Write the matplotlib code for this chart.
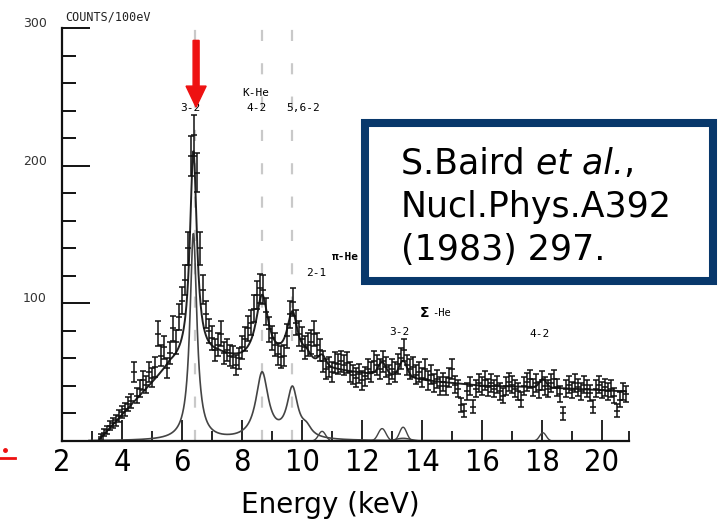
import numpy as np
import matplotlib
matplotlib.use('Agg')
import matplotlib.pyplot as plt
from matplotlib.patches import Rectangle, FancyArrow
from matplotlib.lines import Line2D
from matplotlib.ticker import FixedLocator, MultipleLocator
from matplotlib.transforms import ScaledTranslation

# counts per 100 eV bin, first bin centred at 3.3 keV
bin_start = 3.3
bin_width = 0.1
counts = np.array([
    3, 6, 8, 11, 13, 15, 18, 21, 23, 27,
    29, 50, 33, 38, 44, 41, 50, 46, 54, 78,
    62, 68, 53, 64, 82, 72, 90, 102, 117, 140,
    207, 222, 195, 140, 110, 92, 80, 75, 66, 70,
    78, 64, 66, 62, 61, 55, 60, 68, 74, 82,
    86, 96, 106, 111, 110, 94, 81, 75, 70, 63,
    61, 62, 76, 92, 101, 86, 78, 74, 68, 70,
    72, 78, 70, 66, 58, 52, 54, 50, 57, 56,
    58, 55, 57, 50, 48, 46, 49, 44, 47, 52,
    50, 58, 55, 52, 58, 54, 48, 52, 50, 56,
    60, 66, 55, 52, 54, 48, 50, 46, 52, 44,
    48, 42, 45, 40, 43, 40, 46, 52, 41, 38,
    26, 22, 36, 40, 25, 38, 42, 40, 44, 39,
    42, 38, 41, 36, 33, 40, 43, 41, 38, 36,
    30, 40, 43, 45, 39, 42, 37, 44, 40, 38,
    42, 45, 39, 34, 20, 38, 41, 37, 42, 39,
    36, 41, 38, 35, 25, 38, 41, 37, 39, 36,
    38, 33, 22, 30, 36, 34,
])
energy = np.round(bin_start + bin_width * np.arange(len(counts)), 1)
errors = np.sqrt(counts)

# kaonic helium lines (lorentzian): centre keV, height, half width keV
k_centers = [6.38, 8.67, 9.68, 10.15]
k_heights = [150, 48, 36, 6]
k_widths = [0.14, 0.25, 0.22, 0.20]

# small pi / sigma lines (gaussian)
s_centers = [10.67, 12.67, 13.37, 13.37, 18.03]
s_heights = [7, 9, 10, 2, 6]
s_sigmas = [0.12, 0.13, 0.12, 0.25, 0.11]

# smooth background under the fit
bg_energy = [3.25, 4.5, 5.6, 6.4, 7.2, 8.0, 9.3, 10.5, 11.5, 13.0, 14.5, 16.0, 18.0, 20.8]
bg_counts = [1, 30, 54, 60, 61, 57, 55, 53, 50, 47, 43, 40, 39, 36]

line_marks = [6.43, 8.67, 9.67]
x_ticks = [2, 4, 6, 8, 10, 12, 14, 16, 18, 20]


def lorentz(x, c, h, g):
    return h / (1 + ((x - c) / g) ** 2)


def gauss(x, c, h, s):
    return h * np.exp(-0.5 * ((x - c) / s) ** 2)


fig = plt.figure(figsize=(7.27, 5.23), dpi=100)
ax = fig.add_axes([62 / 727, 1 - 441 / 523, 567 / 727, 413 / 523])
ax.set_xlim(2, 20.9)
ax.set_ylim(0, 300)

# dashed guide lines for the K-He transitions
ax.vlines(line_marks, 0, 311, colors='#c9c9c9', linestyles=[(0, (5, 10))],
          linewidth=1.6, clip_on=False, zorder=0)

# components
grid = np.linspace(2.9, 20.9, 2000)
ksum = np.zeros_like(grid)
for c, h, g in zip(k_centers, k_heights, k_widths):
    ksum += lorentz(grid, c, h, g)
ax.plot(grid, ksum, color='#444444', lw=1.2, zorder=2)
for c, h, s in zip(s_centers, s_heights, s_sigmas):
    part = np.linspace(c - 4 * s, c + 4 * s, 100)
    ax.plot(part, gauss(part, c, h, s), color='#444444', lw=1.0, zorder=2)

# total fit
fine = np.linspace(3.25, 20.8, 2000)
fit = np.interp(fine, bg_energy, bg_counts)
for c, h, g in zip(k_centers, k_heights, k_widths):
    fit += lorentz(fine, c, h, g)
for c, h, s in zip(s_centers, s_heights, s_sigmas):
    fit += gauss(fine, c, h, s)
ax.plot(fine, fit, color='#222222', lw=1.4, zorder=3)

# data
ax.errorbar(energy, counts, yerr=errors, fmt='_', ms=4, mew=1.1, color='#111111',
            ecolor='#111111', elinewidth=1.1, capsize=2.2, capthick=1.1, zorder=4)

# axes styling
for side in ['top', 'right']:
    ax.spines[side].set_visible(False)
for side in ['left', 'bottom']:
    ax.spines[side].set_linewidth(1.6)
    ax.spines[side].set_color('#111111')

ax.xaxis.set_major_locator(FixedLocator(x_ticks))
ax.xaxis.set_minor_locator(FixedLocator([3, 5, 7, 9, 11, 13, 15, 17, 19, 20.9]))
ax.tick_params(axis='x', which='major', direction='in', length=15, width=1.2,
               labelsize=22, pad=5)
ax.tick_params(axis='x', which='minor', direction='in', length=7, width=1.2)
for lab in ax.get_xticklabels():
    lab.set_family('DejaVu Sans')
    lab.set_stretch('condensed')

ax.yaxis.set_major_locator(FixedLocator([100, 200, 300]))
ax.yaxis.set_minor_locator(MultipleLocator(20))
ax.tick_params(axis='y', which='major', direction='in', length=20, width=1.3,
               labelsize=9, pad=11, labelcolor='#333333')
ax.tick_params(axis='y', which='minor', direction='in', length=10, width=1.3)
shift = ScaledTranslation(0, 0.06, fig.dpi_scale_trans)
for tick in ax.yaxis.get_major_ticks():
    tick.label1.set_transform(tick.label1.get_transform() + shift)

ax.set_xlabel('Energy (keV)', fontsize=20)
ax.xaxis.set_label_coords(0.473, -0.12)

# labels from the original paper figure
mono = 'DejaVu Sans Mono'
ax.text(2.1, 308, 'COUNTS/100eV', family=mono, fontsize=8.5, va='center', color='#222222')
ax.text(6.27, 242, '3-2', family=mono, fontsize=8, ha='center', va='center')
ax.text(8.47, 253, 'K-He', family=mono, fontsize=8, ha='center', va='center')
ax.text(8.47, 242, '4-2', family=mono, fontsize=8, ha='center', va='center')
ax.text(10.03, 242, '5,6-2', family=mono, fontsize=8, ha='center', va='center')
ax.text(10.47, 122, '2-1', family=mono, fontsize=8, ha='center', va='center')
ax.text(11.0, 134, 'π-He', family=mono, fontsize=8, fontweight='bold', va='center')
ax.text(13.93, 93, 'Σ', fontsize=10, fontweight='bold', va='center')
ax.text(14.35, 93, '-He', family=mono, fontsize=7.5, va='center')
ax.text(13.23, 79, '3-2', family=mono, fontsize=8, ha='center', va='center')
ax.text(17.93, 78, '4-2', family=mono, fontsize=8, ha='center', va='center')

# red arrow at the 3-2 line
ax.add_patch(FancyArrow(6.47, 291, 0, -48.5, width=0.2, head_width=0.67,
                        head_length=15.3, length_includes_head=True,
                        color='#ee1111', clip_on=False, zorder=6))

# reference box
fig.add_artist(Rectangle((365 / 727, 1 - 281 / 523), 348 / 727, 158 / 523,
                         transform=fig.transFigure, facecolor='white',
                         edgecolor='#08386b', linewidth=5.8, zorder=5))
t1 = fig.text(401 / 727, 1 - 173 / 523, 'S.Baird ', fontsize=25, va='baseline', zorder=6)
t2 = fig.text(0, 0, 'et al.', fontsize=25, style='italic', zorder=6)
t3 = fig.text(0, 0, ',', fontsize=25, zorder=6)
fig.text(401 / 727, 1 - 217 / 523, 'Nucl.Phys.A392', fontsize=25, va='baseline', zorder=6)
fig.text(401 / 727, 1 - 260 / 523, '(1983) 297.', fontsize=25, va='baseline', zorder=6)

# place the italic part right after the first word on the same baseline
fig.canvas.draw()
r = fig.canvas.get_renderer()
inv = fig.transFigure.inverted()
x_end = inv.transform((t1.get_window_extent(r).x1, 0))[0]
t2.set_position((x_end, 1 - 173 / 523))
t2.set_va('baseline')
fig.canvas.draw()
x_end = inv.transform((t2.get_window_extent(r).x1, 0))[0]
t3.set_position((x_end, 1 - 173 / 523))
t3.set_va('baseline')

# red mark at the left edge
fig.add_artist(Line2D([0, 15 / 727], [1 - 458 / 523] * 2, color='#ee1111', lw=2,
                      transform=fig.transFigure))
fig.add_artist(Line2D([5 / 727], [1 - 450 / 523], color='#ee1111', marker='o', ms=2.5,
                      transform=fig.transFigure))

plt.savefig('out.png', dpi=100)
